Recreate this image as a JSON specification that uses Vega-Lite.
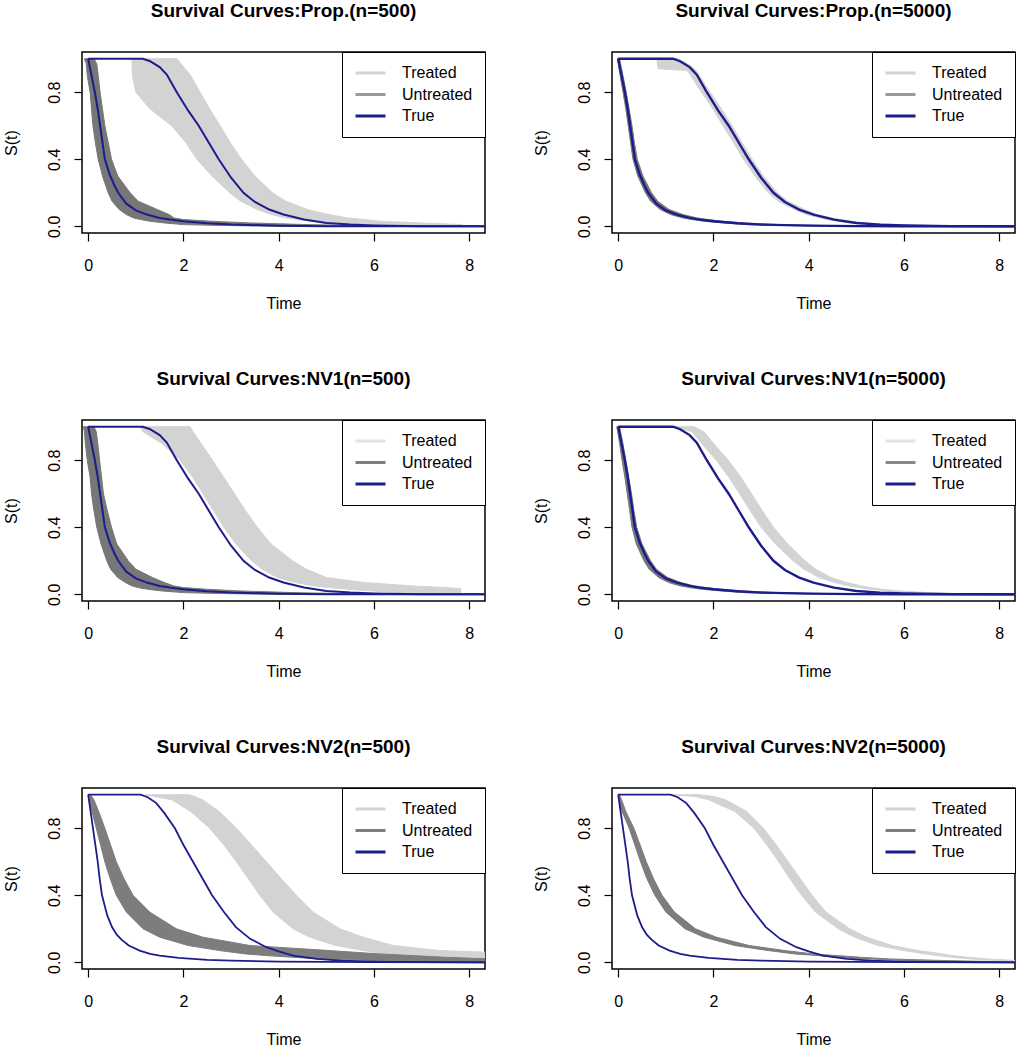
{
  "$schema": "https://vega.github.io/schema/vega-lite/v6.json",
  "padding": {"left": 2, "top": 0, "right": 0, "bottom": 0},
  "background": "white",
  "columns": 2,
  "spacing": {"row": 187, "column": 127},
  "bounds": "flush",
  "resolve": {"scale": {"stroke": "independent"}, "legend": {"stroke": "independent"}},
  "datasets": {
    "bands": [
      {"panel": 1, "series": "Treated", "s": 1, "lo": 0.92, "hi": 1.86},
      {"panel": 1, "series": "Treated", "s": 0.97, "lo": 0.92, "hi": 1.95},
      {"panel": 1, "series": "Treated", "s": 0.9, "lo": 0.93, "hi": 2.15},
      {"panel": 1, "series": "Treated", "s": 0.8, "lo": 1.0, "hi": 2.35},
      {"panel": 1, "series": "Treated", "s": 0.7, "lo": 1.3, "hi": 2.55},
      {"panel": 1, "series": "Treated", "s": 0.6, "lo": 1.75, "hi": 2.77},
      {"panel": 1, "series": "Treated", "s": 0.5, "lo": 2.05, "hi": 2.98},
      {"panel": 1, "series": "Treated", "s": 0.4, "lo": 2.28, "hi": 3.22},
      {"panel": 1, "series": "Treated", "s": 0.3, "lo": 2.6, "hi": 3.5},
      {"panel": 1, "series": "Treated", "s": 0.2, "lo": 2.97, "hi": 3.87},
      {"panel": 1, "series": "Treated", "s": 0.15, "lo": 3.2, "hi": 4.15},
      {"panel": 1, "series": "Treated", "s": 0.1, "lo": 3.55, "hi": 4.6},
      {"panel": 1, "series": "Treated", "s": 0.07, "lo": 3.85, "hi": 5.05},
      {"panel": 1, "series": "Treated", "s": 0.05, "lo": 4.15, "hi": 5.44},
      {"panel": 1, "series": "Treated", "s": 0.04, "lo": 4.39, "hi": 5.8},
      {"panel": 1, "series": "Treated", "s": 0.03, "lo": 4.7, "hi": 6.14},
      {"panel": 1, "series": "Treated", "s": 0.02, "lo": 5.09, "hi": 7.0},
      {"panel": 1, "series": "Treated", "s": 0.01, "lo": 5.79, "hi": 7.86},
      {"panel": 1, "series": "Treated", "s": 0.005, "lo": 6.5, "hi": 7.86},
      {"panel": 1, "series": "Treated", "s": 0, "lo": 7.3, "hi": 7.86},
      {"panel": 1, "series": "Untreated", "s": 1, "lo": -0.08, "hi": 0.12},
      {"panel": 1, "series": "Untreated", "s": 0.97, "lo": -0.04, "hi": 0.18},
      {"panel": 1, "series": "Untreated", "s": 0.9, "lo": -0.02, "hi": 0.21},
      {"panel": 1, "series": "Untreated", "s": 0.8, "lo": 0.04, "hi": 0.25},
      {"panel": 1, "series": "Untreated", "s": 0.7, "lo": 0.07, "hi": 0.3},
      {"panel": 1, "series": "Untreated", "s": 0.6, "lo": 0.1, "hi": 0.35},
      {"panel": 1, "series": "Untreated", "s": 0.5, "lo": 0.15, "hi": 0.42},
      {"panel": 1, "series": "Untreated", "s": 0.4, "lo": 0.21, "hi": 0.49},
      {"panel": 1, "series": "Untreated", "s": 0.3, "lo": 0.3, "hi": 0.62},
      {"panel": 1, "series": "Untreated", "s": 0.2, "lo": 0.42, "hi": 0.88},
      {"panel": 1, "series": "Untreated", "s": 0.15, "lo": 0.5, "hi": 1.05},
      {"panel": 1, "series": "Untreated", "s": 0.1, "lo": 0.65, "hi": 1.45},
      {"panel": 1, "series": "Untreated", "s": 0.07, "lo": 0.8, "hi": 1.7},
      {"panel": 1, "series": "Untreated", "s": 0.05, "lo": 0.95, "hi": 1.8},
      {"panel": 1, "series": "Untreated", "s": 0.04, "lo": 1.1, "hi": 2.0},
      {"panel": 1, "series": "Untreated", "s": 0.03, "lo": 1.3, "hi": 2.6},
      {"panel": 1, "series": "Untreated", "s": 0.02, "lo": 1.6, "hi": 3.4},
      {"panel": 1, "series": "Untreated", "s": 0.01, "lo": 2.0, "hi": 4.6},
      {"panel": 1, "series": "Untreated", "s": 0.005, "lo": 2.8, "hi": 5.5},
      {"panel": 1, "series": "Untreated", "s": 0, "lo": 4.0, "hi": 6.5},

      {"panel": 2, "series": "Treated", "s": 1, "lo": 0.82, "hi": 1.25},
      {"panel": 2, "series": "Treated", "s": 0.97, "lo": 0.82, "hi": 1.45},
      {"panel": 2, "series": "Treated", "s": 0.94, "lo": 0.84, "hi": 1.6},
      {"panel": 2, "series": "Treated", "s": 0.93, "lo": 1.45, "hi": 1.63},
      {"panel": 2, "series": "Treated", "s": 0.9, "lo": 1.52, "hi": 1.7},
      {"panel": 2, "series": "Treated", "s": 0.8, "lo": 1.75, "hi": 1.93},
      {"panel": 2, "series": "Treated", "s": 0.7, "lo": 1.99, "hi": 2.17},
      {"panel": 2, "series": "Treated", "s": 0.6, "lo": 2.2, "hi": 2.39},
      {"panel": 2, "series": "Treated", "s": 0.5, "lo": 2.42, "hi": 2.6},
      {"panel": 2, "series": "Treated", "s": 0.4, "lo": 2.63, "hi": 2.81},
      {"panel": 2, "series": "Treated", "s": 0.3, "lo": 2.87, "hi": 3.05},
      {"panel": 2, "series": "Treated", "s": 0.2, "lo": 3.15, "hi": 3.34},
      {"panel": 2, "series": "Treated", "s": 0.15, "lo": 3.36, "hi": 3.56},
      {"panel": 2, "series": "Treated", "s": 0.1, "lo": 3.7, "hi": 3.92},
      {"panel": 2, "series": "Treated", "s": 0.07, "lo": 3.95, "hi": 4.17},
      {"panel": 2, "series": "Treated", "s": 0.05, "lo": 4.25, "hi": 4.5},
      {"panel": 2, "series": "Treated", "s": 0.04, "lo": 4.4, "hi": 4.65},
      {"panel": 2, "series": "Treated", "s": 0.03, "lo": 4.6, "hi": 4.9},
      {"panel": 2, "series": "Treated", "s": 0.02, "lo": 4.85, "hi": 5.2},
      {"panel": 2, "series": "Treated", "s": 0.01, "lo": 5.4, "hi": 5.85},
      {"panel": 2, "series": "Treated", "s": 0.005, "lo": 5.8, "hi": 6.4},
      {"panel": 2, "series": "Treated", "s": 0, "lo": 7.0, "hi": 8.0},
      {"panel": 2, "series": "Untreated", "s": 1, "lo": -0.02, "hi": 0.03},
      {"panel": 2, "series": "Untreated", "s": 0.97, "lo": 0.0, "hi": 0.05},
      {"panel": 2, "series": "Untreated", "s": 0.9, "lo": 0.04, "hi": 0.1},
      {"panel": 2, "series": "Untreated", "s": 0.8, "lo": 0.1, "hi": 0.17},
      {"panel": 2, "series": "Untreated", "s": 0.7, "lo": 0.16, "hi": 0.23},
      {"panel": 2, "series": "Untreated", "s": 0.6, "lo": 0.21, "hi": 0.29},
      {"panel": 2, "series": "Untreated", "s": 0.5, "lo": 0.26, "hi": 0.34},
      {"panel": 2, "series": "Untreated", "s": 0.4, "lo": 0.31, "hi": 0.4},
      {"panel": 2, "series": "Untreated", "s": 0.3, "lo": 0.41, "hi": 0.52},
      {"panel": 2, "series": "Untreated", "s": 0.2, "lo": 0.57, "hi": 0.7},
      {"panel": 2, "series": "Untreated", "s": 0.15, "lo": 0.68, "hi": 0.83},
      {"panel": 2, "series": "Untreated", "s": 0.1, "lo": 0.88, "hi": 1.07},
      {"panel": 2, "series": "Untreated", "s": 0.07, "lo": 1.1, "hi": 1.36},
      {"panel": 2, "series": "Untreated", "s": 0.05, "lo": 1.35, "hi": 1.65},
      {"panel": 2, "series": "Untreated", "s": 0.04, "lo": 1.55, "hi": 1.9},
      {"panel": 2, "series": "Untreated", "s": 0.03, "lo": 1.8, "hi": 2.2},
      {"panel": 2, "series": "Untreated", "s": 0.02, "lo": 2.2, "hi": 2.65},
      {"panel": 2, "series": "Untreated", "s": 0.01, "lo": 2.7, "hi": 3.4},
      {"panel": 2, "series": "Untreated", "s": 0.005, "lo": 3.4, "hi": 4.3},
      {"panel": 2, "series": "Untreated", "s": 0, "lo": 5.0, "hi": 7.0},

      {"panel": 3, "series": "Treated", "s": 1, "lo": 1.09, "hi": 2.14},
      {"panel": 3, "series": "Treated", "s": 0.97, "lo": 1.15, "hi": 2.2},
      {"panel": 3, "series": "Treated", "s": 0.9, "lo": 1.55, "hi": 2.37},
      {"panel": 3, "series": "Treated", "s": 0.8, "lo": 1.93, "hi": 2.61},
      {"panel": 3, "series": "Treated", "s": 0.7, "lo": 2.19, "hi": 2.84},
      {"panel": 3, "series": "Treated", "s": 0.6, "lo": 2.41, "hi": 3.07},
      {"panel": 3, "series": "Treated", "s": 0.5, "lo": 2.63, "hi": 3.3},
      {"panel": 3, "series": "Treated", "s": 0.4, "lo": 2.85, "hi": 3.55},
      {"panel": 3, "series": "Treated", "s": 0.3, "lo": 3.1, "hi": 3.84},
      {"panel": 3, "series": "Treated", "s": 0.2, "lo": 3.43, "hi": 4.29},
      {"panel": 3, "series": "Treated", "s": 0.15, "lo": 3.65, "hi": 4.58},
      {"panel": 3, "series": "Treated", "s": 0.1, "lo": 3.97, "hi": 5.0},
      {"panel": 3, "series": "Treated", "s": 0.07, "lo": 4.35, "hi": 5.8},
      {"panel": 3, "series": "Treated", "s": 0.05, "lo": 4.74, "hi": 6.8},
      {"panel": 3, "series": "Treated", "s": 0.04, "lo": 5.05, "hi": 7.5},
      {"panel": 3, "series": "Treated", "s": 0.034, "lo": 5.3, "hi": 7.82},
      {"panel": 3, "series": "Treated", "s": 0.03, "lo": 5.44, "hi": 7.82},
      {"panel": 3, "series": "Treated", "s": 0.02, "lo": 5.95, "hi": 7.82},
      {"panel": 3, "series": "Treated", "s": 0.01, "lo": 6.6, "hi": 7.82},
      {"panel": 3, "series": "Treated", "s": 0.005, "lo": 7.2, "hi": 7.82},
      {"panel": 3, "series": "Treated", "s": 0, "lo": 7.8, "hi": 7.82},
      {"panel": 3, "series": "Untreated", "s": 1, "lo": -0.1, "hi": 0.12},
      {"panel": 3, "series": "Untreated", "s": 0.97, "lo": -0.08, "hi": 0.17},
      {"panel": 3, "series": "Untreated", "s": 0.9, "lo": -0.06, "hi": 0.2},
      {"panel": 3, "series": "Untreated", "s": 0.8, "lo": -0.02, "hi": 0.24},
      {"panel": 3, "series": "Untreated", "s": 0.7, "lo": 0.04, "hi": 0.28},
      {"panel": 3, "series": "Untreated", "s": 0.6, "lo": 0.07, "hi": 0.32},
      {"panel": 3, "series": "Untreated", "s": 0.5, "lo": 0.12, "hi": 0.4},
      {"panel": 3, "series": "Untreated", "s": 0.4, "lo": 0.18, "hi": 0.49},
      {"panel": 3, "series": "Untreated", "s": 0.3, "lo": 0.27, "hi": 0.6},
      {"panel": 3, "series": "Untreated", "s": 0.2, "lo": 0.39, "hi": 0.84},
      {"panel": 3, "series": "Untreated", "s": 0.15, "lo": 0.47, "hi": 1.0},
      {"panel": 3, "series": "Untreated", "s": 0.1, "lo": 0.62, "hi": 1.35},
      {"panel": 3, "series": "Untreated", "s": 0.07, "lo": 0.78, "hi": 1.6},
      {"panel": 3, "series": "Untreated", "s": 0.05, "lo": 0.92, "hi": 1.8},
      {"panel": 3, "series": "Untreated", "s": 0.04, "lo": 1.05, "hi": 2.0},
      {"panel": 3, "series": "Untreated", "s": 0.03, "lo": 1.25, "hi": 2.5},
      {"panel": 3, "series": "Untreated", "s": 0.02, "lo": 1.55, "hi": 3.2},
      {"panel": 3, "series": "Untreated", "s": 0.01, "lo": 2.0, "hi": 4.3},
      {"panel": 3, "series": "Untreated", "s": 0.005, "lo": 2.7, "hi": 5.2},
      {"panel": 3, "series": "Untreated", "s": 0, "lo": 3.8, "hi": 6.3},

      {"panel": 4, "series": "Treated", "s": 1, "lo": 1.2, "hi": 1.59},
      {"panel": 4, "series": "Treated", "s": 0.97, "lo": 1.55, "hi": 1.8},
      {"panel": 4, "series": "Treated", "s": 0.9, "lo": 1.75, "hi": 2.0},
      {"panel": 4, "series": "Treated", "s": 0.8, "lo": 2.06, "hi": 2.31},
      {"panel": 4, "series": "Treated", "s": 0.7, "lo": 2.32, "hi": 2.57},
      {"panel": 4, "series": "Treated", "s": 0.6, "lo": 2.55, "hi": 2.8},
      {"panel": 4, "series": "Treated", "s": 0.5, "lo": 2.77, "hi": 3.02},
      {"panel": 4, "series": "Treated", "s": 0.4, "lo": 3.0, "hi": 3.26},
      {"panel": 4, "series": "Treated", "s": 0.3, "lo": 3.3, "hi": 3.56},
      {"panel": 4, "series": "Treated", "s": 0.2, "lo": 3.67, "hi": 3.92},
      {"panel": 4, "series": "Treated", "s": 0.15, "lo": 3.9, "hi": 4.15},
      {"panel": 4, "series": "Treated", "s": 0.1, "lo": 4.22, "hi": 4.47},
      {"panel": 4, "series": "Treated", "s": 0.07, "lo": 4.55, "hi": 4.8},
      {"panel": 4, "series": "Treated", "s": 0.05, "lo": 4.85, "hi": 5.1},
      {"panel": 4, "series": "Treated", "s": 0.04, "lo": 5.05, "hi": 5.3},
      {"panel": 4, "series": "Treated", "s": 0.03, "lo": 5.3, "hi": 5.55},
      {"panel": 4, "series": "Treated", "s": 0.02, "lo": 5.66, "hi": 5.91},
      {"panel": 4, "series": "Treated", "s": 0.01, "lo": 6.2, "hi": 6.5},
      {"panel": 4, "series": "Treated", "s": 0.005, "lo": 6.8, "hi": 7.0},
      {"panel": 4, "series": "Treated", "s": 0, "lo": 8.0, "hi": 8.4},
      {"panel": 4, "series": "Untreated", "s": 1, "lo": -0.03, "hi": 0.03},
      {"panel": 4, "series": "Untreated", "s": 0.97, "lo": -0.01, "hi": 0.05},
      {"panel": 4, "series": "Untreated", "s": 0.9, "lo": 0.03, "hi": 0.1},
      {"panel": 4, "series": "Untreated", "s": 0.8, "lo": 0.08, "hi": 0.16},
      {"panel": 4, "series": "Untreated", "s": 0.7, "lo": 0.14, "hi": 0.22},
      {"panel": 4, "series": "Untreated", "s": 0.6, "lo": 0.19, "hi": 0.28},
      {"panel": 4, "series": "Untreated", "s": 0.5, "lo": 0.24, "hi": 0.33},
      {"panel": 4, "series": "Untreated", "s": 0.4, "lo": 0.29, "hi": 0.39},
      {"panel": 4, "series": "Untreated", "s": 0.3, "lo": 0.38, "hi": 0.5},
      {"panel": 4, "series": "Untreated", "s": 0.2, "lo": 0.54, "hi": 0.68},
      {"panel": 4, "series": "Untreated", "s": 0.15, "lo": 0.65, "hi": 0.8},
      {"panel": 4, "series": "Untreated", "s": 0.1, "lo": 0.85, "hi": 1.04},
      {"panel": 4, "series": "Untreated", "s": 0.07, "lo": 1.06, "hi": 1.32},
      {"panel": 4, "series": "Untreated", "s": 0.05, "lo": 1.3, "hi": 1.6},
      {"panel": 4, "series": "Untreated", "s": 0.04, "lo": 1.5, "hi": 1.85},
      {"panel": 4, "series": "Untreated", "s": 0.03, "lo": 1.75, "hi": 2.15},
      {"panel": 4, "series": "Untreated", "s": 0.02, "lo": 2.15, "hi": 2.6},
      {"panel": 4, "series": "Untreated", "s": 0.01, "lo": 2.65, "hi": 3.35},
      {"panel": 4, "series": "Untreated", "s": 0.005, "lo": 3.35, "hi": 4.2},
      {"panel": 4, "series": "Untreated", "s": 0, "lo": 4.9, "hi": 7.0},

      {"panel": 5, "series": "Treated", "s": 1, "lo": 1.2, "hi": 2.13},
      {"panel": 5, "series": "Treated", "s": 0.97, "lo": 1.75, "hi": 2.4},
      {"panel": 5, "series": "Treated", "s": 0.9, "lo": 2.15, "hi": 2.75},
      {"panel": 5, "series": "Treated", "s": 0.8, "lo": 2.55, "hi": 3.11},
      {"panel": 5, "series": "Treated", "s": 0.7, "lo": 2.85, "hi": 3.43},
      {"panel": 5, "series": "Treated", "s": 0.6, "lo": 3.11, "hi": 3.74},
      {"panel": 5, "series": "Treated", "s": 0.5, "lo": 3.36, "hi": 4.05},
      {"panel": 5, "series": "Treated", "s": 0.4, "lo": 3.6, "hi": 4.37},
      {"panel": 5, "series": "Treated", "s": 0.3, "lo": 3.88, "hi": 4.72},
      {"panel": 5, "series": "Treated", "s": 0.2, "lo": 4.3, "hi": 5.28},
      {"panel": 5, "series": "Treated", "s": 0.15, "lo": 4.65, "hi": 5.77},
      {"panel": 5, "series": "Treated", "s": 0.1, "lo": 5.2, "hi": 6.4},
      {"panel": 5, "series": "Treated", "s": 0.07, "lo": 5.77, "hi": 7.38},
      {"panel": 5, "series": "Treated", "s": 0.06, "lo": 6.0, "hi": 8.4},
      {"panel": 5, "series": "Treated", "s": 0.05, "lo": 6.2, "hi": 8.4},
      {"panel": 5, "series": "Treated", "s": 0.04, "lo": 6.47, "hi": 8.4},
      {"panel": 5, "series": "Treated", "s": 0.03, "lo": 7.0, "hi": 8.4},
      {"panel": 5, "series": "Treated", "s": 0.02, "lo": 7.52, "hi": 8.4},
      {"panel": 5, "series": "Treated", "s": 0.015, "lo": 8.1, "hi": 8.4},
      {"panel": 5, "series": "Untreated", "s": 1, "lo": 0.0, "hi": 0.05},
      {"panel": 5, "series": "Untreated", "s": 0.97, "lo": 0.02, "hi": 0.12},
      {"panel": 5, "series": "Untreated", "s": 0.9, "lo": 0.08, "hi": 0.22},
      {"panel": 5, "series": "Untreated", "s": 0.8, "lo": 0.17, "hi": 0.35},
      {"panel": 5, "series": "Untreated", "s": 0.7, "lo": 0.26, "hi": 0.47},
      {"panel": 5, "series": "Untreated", "s": 0.6, "lo": 0.35, "hi": 0.59},
      {"panel": 5, "series": "Untreated", "s": 0.5, "lo": 0.46, "hi": 0.75},
      {"panel": 5, "series": "Untreated", "s": 0.4, "lo": 0.59, "hi": 0.94},
      {"panel": 5, "series": "Untreated", "s": 0.3, "lo": 0.8, "hi": 1.29},
      {"panel": 5, "series": "Untreated", "s": 0.2, "lo": 1.15, "hi": 1.85},
      {"panel": 5, "series": "Untreated", "s": 0.15, "lo": 1.5, "hi": 2.41},
      {"panel": 5, "series": "Untreated", "s": 0.1, "lo": 2.1, "hi": 3.4},
      {"panel": 5, "series": "Untreated", "s": 0.07, "lo": 2.76, "hi": 5.07},
      {"panel": 5, "series": "Untreated", "s": 0.05, "lo": 3.3, "hi": 6.12},
      {"panel": 5, "series": "Untreated", "s": 0.04, "lo": 3.74, "hi": 6.8},
      {"panel": 5, "series": "Untreated", "s": 0.03, "lo": 4.3, "hi": 7.5},
      {"panel": 5, "series": "Untreated", "s": 0.02, "lo": 4.86, "hi": 8.4},
      {"panel": 5, "series": "Untreated", "s": 0.01, "lo": 6.12, "hi": 8.4},
      {"panel": 5, "series": "Untreated", "s": 0.005, "lo": 7.0, "hi": 8.4},
      {"panel": 5, "series": "Untreated", "s": 0, "lo": 8.0, "hi": 8.4},

      {"panel": 6, "series": "Treated", "s": 1, "lo": 1.15, "hi": 1.7},
      {"panel": 6, "series": "Treated", "s": 0.99, "lo": 1.6, "hi": 2.0},
      {"panel": 6, "series": "Treated", "s": 0.97, "lo": 1.9, "hi": 2.25},
      {"panel": 6, "series": "Treated", "s": 0.9, "lo": 2.45, "hi": 2.7},
      {"panel": 6, "series": "Treated", "s": 0.8, "lo": 2.85, "hi": 3.05},
      {"panel": 6, "series": "Treated", "s": 0.7, "lo": 3.12, "hi": 3.32},
      {"panel": 6, "series": "Treated", "s": 0.6, "lo": 3.37, "hi": 3.57},
      {"panel": 6, "series": "Treated", "s": 0.5, "lo": 3.6, "hi": 3.82},
      {"panel": 6, "series": "Treated", "s": 0.4, "lo": 3.85, "hi": 4.07},
      {"panel": 6, "series": "Treated", "s": 0.3, "lo": 4.14, "hi": 4.36},
      {"panel": 6, "series": "Treated", "s": 0.2, "lo": 4.62, "hi": 4.86},
      {"panel": 6, "series": "Treated", "s": 0.15, "lo": 4.96, "hi": 5.22},
      {"panel": 6, "series": "Treated", "s": 0.1, "lo": 5.45, "hi": 5.75},
      {"panel": 6, "series": "Treated", "s": 0.07, "lo": 6.0, "hi": 6.3},
      {"panel": 6, "series": "Treated", "s": 0.05, "lo": 6.45, "hi": 6.8},
      {"panel": 6, "series": "Treated", "s": 0.04, "lo": 6.7, "hi": 7.0},
      {"panel": 6, "series": "Treated", "s": 0.03, "lo": 7.0, "hi": 7.35},
      {"panel": 6, "series": "Treated", "s": 0.02, "lo": 7.4, "hi": 7.75},
      {"panel": 6, "series": "Treated", "s": 0.01, "lo": 8.0, "hi": 8.4},
      {"panel": 6, "series": "Treated", "s": 0.005, "lo": 8.3, "hi": 8.4},
      {"panel": 6, "series": "Untreated", "s": 1, "lo": 0.0, "hi": 0.03},
      {"panel": 6, "series": "Untreated", "s": 0.97, "lo": 0.02, "hi": 0.07},
      {"panel": 6, "series": "Untreated", "s": 0.9, "lo": 0.08, "hi": 0.16},
      {"panel": 6, "series": "Untreated", "s": 0.8, "lo": 0.23, "hi": 0.33},
      {"panel": 6, "series": "Untreated", "s": 0.7, "lo": 0.35, "hi": 0.46},
      {"panel": 6, "series": "Untreated", "s": 0.6, "lo": 0.47, "hi": 0.59},
      {"panel": 6, "series": "Untreated", "s": 0.5, "lo": 0.6, "hi": 0.74},
      {"panel": 6, "series": "Untreated", "s": 0.4, "lo": 0.77, "hi": 0.92},
      {"panel": 6, "series": "Untreated", "s": 0.3, "lo": 1.0, "hi": 1.18},
      {"panel": 6, "series": "Untreated", "s": 0.2, "lo": 1.4, "hi": 1.62},
      {"panel": 6, "series": "Untreated", "s": 0.15, "lo": 1.8, "hi": 2.06},
      {"panel": 6, "series": "Untreated", "s": 0.1, "lo": 2.45, "hi": 2.75},
      {"panel": 6, "series": "Untreated", "s": 0.07, "lo": 3.15, "hi": 3.5},
      {"panel": 6, "series": "Untreated", "s": 0.05, "lo": 3.7, "hi": 4.1},
      {"panel": 6, "series": "Untreated", "s": 0.04, "lo": 4.2, "hi": 4.6},
      {"panel": 6, "series": "Untreated", "s": 0.03, "lo": 4.6, "hi": 5.1},
      {"panel": 6, "series": "Untreated", "s": 0.02, "lo": 5.2, "hi": 5.7},
      {"panel": 6, "series": "Untreated", "s": 0.01, "lo": 6.2, "hi": 6.9},
      {"panel": 6, "series": "Untreated", "s": 0.005, "lo": 7.0, "hi": 7.8},
      {"panel": 6, "series": "Untreated", "s": 0, "lo": 7.8, "hi": 8.4}
    ],
    "truth": [
      {"set": "A", "curve": "treated", "series": "True", "t": 0, "s": 1},
      {"set": "A", "curve": "treated", "series": "True", "t": 1.15, "s": 1},
      {"set": "A", "curve": "treated", "series": "True", "t": 1.3, "s": 0.985},
      {"set": "A", "curve": "treated", "series": "True", "t": 1.5, "s": 0.95},
      {"set": "A", "curve": "treated", "series": "True", "t": 1.65, "s": 0.905},
      {"set": "A", "curve": "treated", "series": "True", "t": 1.86, "s": 0.8},
      {"set": "A", "curve": "treated", "series": "True", "t": 2.1, "s": 0.69},
      {"set": "A", "curve": "treated", "series": "True", "t": 2.32, "s": 0.6},
      {"set": "A", "curve": "treated", "series": "True", "t": 2.53, "s": 0.5},
      {"set": "A", "curve": "treated", "series": "True", "t": 2.74, "s": 0.4},
      {"set": "A", "curve": "treated", "series": "True", "t": 3.0, "s": 0.29},
      {"set": "A", "curve": "treated", "series": "True", "t": 3.26, "s": 0.2},
      {"set": "A", "curve": "treated", "series": "True", "t": 3.5, "s": 0.145},
      {"set": "A", "curve": "treated", "series": "True", "t": 3.8, "s": 0.1},
      {"set": "A", "curve": "treated", "series": "True", "t": 4.1, "s": 0.07},
      {"set": "A", "curve": "treated", "series": "True", "t": 4.53, "s": 0.04},
      {"set": "A", "curve": "treated", "series": "True", "t": 5.0, "s": 0.02},
      {"set": "A", "curve": "treated", "series": "True", "t": 5.5, "s": 0.01},
      {"set": "A", "curve": "treated", "series": "True", "t": 6.0, "s": 0.005},
      {"set": "A", "curve": "treated", "series": "True", "t": 7.0, "s": 0.001},
      {"set": "A", "curve": "treated", "series": "True", "t": 8.4, "s": 0},
      {"set": "A", "curve": "untreated", "series": "True", "t": 0, "s": 1},
      {"set": "A", "curve": "untreated", "series": "True", "t": 0.07, "s": 0.9},
      {"set": "A", "curve": "untreated", "series": "True", "t": 0.14, "s": 0.8},
      {"set": "A", "curve": "untreated", "series": "True", "t": 0.2, "s": 0.7},
      {"set": "A", "curve": "untreated", "series": "True", "t": 0.25, "s": 0.6},
      {"set": "A", "curve": "untreated", "series": "True", "t": 0.3, "s": 0.5},
      {"set": "A", "curve": "untreated", "series": "True", "t": 0.35, "s": 0.4},
      {"set": "A", "curve": "untreated", "series": "True", "t": 0.45, "s": 0.31},
      {"set": "A", "curve": "untreated", "series": "True", "t": 0.55, "s": 0.245},
      {"set": "A", "curve": "untreated", "series": "True", "t": 0.63, "s": 0.2},
      {"set": "A", "curve": "untreated", "series": "True", "t": 0.8, "s": 0.135},
      {"set": "A", "curve": "untreated", "series": "True", "t": 1.0, "s": 0.095},
      {"set": "A", "curve": "untreated", "series": "True", "t": 1.23, "s": 0.07},
      {"set": "A", "curve": "untreated", "series": "True", "t": 1.5, "s": 0.05},
      {"set": "A", "curve": "untreated", "series": "True", "t": 1.72, "s": 0.04},
      {"set": "A", "curve": "untreated", "series": "True", "t": 2.0, "s": 0.03},
      {"set": "A", "curve": "untreated", "series": "True", "t": 2.5, "s": 0.018},
      {"set": "A", "curve": "untreated", "series": "True", "t": 3.0, "s": 0.01},
      {"set": "A", "curve": "untreated", "series": "True", "t": 4.0, "s": 0.004},
      {"set": "A", "curve": "untreated", "series": "True", "t": 5.0, "s": 0.001},
      {"set": "A", "curve": "untreated", "series": "True", "t": 6.0, "s": 0},
      {"set": "A", "curve": "untreated", "series": "True", "t": 8.4, "s": 0},
      {"set": "B", "curve": "treated", "series": "True", "t": 0, "s": 1},
      {"set": "B", "curve": "treated", "series": "True", "t": 1.1, "s": 1},
      {"set": "B", "curve": "treated", "series": "True", "t": 1.25, "s": 0.985},
      {"set": "B", "curve": "treated", "series": "True", "t": 1.43, "s": 0.95},
      {"set": "B", "curve": "treated", "series": "True", "t": 1.6, "s": 0.89},
      {"set": "B", "curve": "treated", "series": "True", "t": 1.82, "s": 0.8},
      {"set": "B", "curve": "treated", "series": "True", "t": 2.0, "s": 0.7},
      {"set": "B", "curve": "treated", "series": "True", "t": 2.2, "s": 0.6},
      {"set": "B", "curve": "treated", "series": "True", "t": 2.4, "s": 0.5},
      {"set": "B", "curve": "treated", "series": "True", "t": 2.6, "s": 0.4},
      {"set": "B", "curve": "treated", "series": "True", "t": 2.85, "s": 0.3},
      {"set": "B", "curve": "treated", "series": "True", "t": 3.1, "s": 0.21},
      {"set": "B", "curve": "treated", "series": "True", "t": 3.4, "s": 0.14},
      {"set": "B", "curve": "treated", "series": "True", "t": 3.74, "s": 0.09},
      {"set": "B", "curve": "treated", "series": "True", "t": 4.0, "s": 0.065},
      {"set": "B", "curve": "treated", "series": "True", "t": 4.3, "s": 0.04},
      {"set": "B", "curve": "treated", "series": "True", "t": 4.8, "s": 0.02},
      {"set": "B", "curve": "treated", "series": "True", "t": 5.3, "s": 0.01},
      {"set": "B", "curve": "treated", "series": "True", "t": 6.0, "s": 0.004},
      {"set": "B", "curve": "treated", "series": "True", "t": 7.0, "s": 0.001},
      {"set": "B", "curve": "treated", "series": "True", "t": 8.4, "s": 0},
      {"set": "B", "curve": "untreated", "series": "True", "t": 0, "s": 1},
      {"set": "B", "curve": "untreated", "series": "True", "t": 0.05, "s": 0.9},
      {"set": "B", "curve": "untreated", "series": "True", "t": 0.1, "s": 0.8},
      {"set": "B", "curve": "untreated", "series": "True", "t": 0.15, "s": 0.7},
      {"set": "B", "curve": "untreated", "series": "True", "t": 0.2, "s": 0.6},
      {"set": "B", "curve": "untreated", "series": "True", "t": 0.24, "s": 0.5},
      {"set": "B", "curve": "untreated", "series": "True", "t": 0.29, "s": 0.4},
      {"set": "B", "curve": "untreated", "series": "True", "t": 0.4, "s": 0.28},
      {"set": "B", "curve": "untreated", "series": "True", "t": 0.5, "s": 0.21},
      {"set": "B", "curve": "untreated", "series": "True", "t": 0.6, "s": 0.165},
      {"set": "B", "curve": "untreated", "series": "True", "t": 0.7, "s": 0.135},
      {"set": "B", "curve": "untreated", "series": "True", "t": 0.85, "s": 0.1},
      {"set": "B", "curve": "untreated", "series": "True", "t": 1.08, "s": 0.07},
      {"set": "B", "curve": "untreated", "series": "True", "t": 1.3, "s": 0.05},
      {"set": "B", "curve": "untreated", "series": "True", "t": 1.5, "s": 0.04},
      {"set": "B", "curve": "untreated", "series": "True", "t": 1.9, "s": 0.026},
      {"set": "B", "curve": "untreated", "series": "True", "t": 2.5, "s": 0.015},
      {"set": "B", "curve": "untreated", "series": "True", "t": 3.0, "s": 0.01},
      {"set": "B", "curve": "untreated", "series": "True", "t": 4.0, "s": 0.004},
      {"set": "B", "curve": "untreated", "series": "True", "t": 5.0, "s": 0.002},
      {"set": "B", "curve": "untreated", "series": "True", "t": 6.0, "s": 0.001},
      {"set": "B", "curve": "untreated", "series": "True", "t": 8.4, "s": 0}
    ]
  },
  "concat": [
    {
      "title": "Survival Curves:Prop.(n=500)",
      "width": 403, "height": 181,
      "layer": [
        {"data": {"name": "bands"}, "transform": [{"filter": "datum.panel == 1 && datum.series == 'Treated'"}],
         "mark": {"type": "area", "orient": "horizontal", "clip": true, "fill": "#d3d3d3", "stroke": "#d3d3d3", "strokeWidth": 1},
         "encoding": {
           "y": {"field": "s", "type": "quantitative", "title": "S(t)", "scale": {"domain": [-0.04, 1.04], "nice": false, "zero": false},
                 "axis": {"values": [0, 0.2, 0.4, 0.6, 0.8, 1], "labelExpr": "datum.value == 0 ? '0.0' : (abs(datum.value - 0.4) < 0.001 ? '0.4' : (abs(datum.value - 0.8) < 0.001 ? '0.8' : ''))", "labelAngle": -90, "labelAlign": "center", "labelBaseline": "bottom", "labelPadding": 12, "labelOverlap": false, "titlePadding": 27}},
           "x": {"field": "lo", "type": "quantitative", "title": "Time", "scale": {"domain": [-0.13, 8.33], "nice": false, "zero": false},
                 "axis": {"values": [0, 2, 4, 6, 8], "labelPadding": 16, "labelFlush": false, "labelOverlap": false, "titlePadding": 22}},
           "x2": {"field": "hi"}
         }},
        {"data": {"name": "bands"}, "transform": [{"filter": "datum.panel == 1 && datum.series == 'Untreated'"}],
         "mark": {"type": "area", "orient": "horizontal", "clip": true, "fill": "#777777", "stroke": "#777777", "strokeWidth": 1},
         "encoding": {
           "y": {"field": "s", "type": "quantitative", "title": "S(t)"},
           "x": {"field": "lo", "type": "quantitative", "title": "Time"},
           "x2": {"field": "hi"}
         }},
        {"data": {"name": "truth"}, "transform": [{"filter": "datum.set == 'A'"}],
         "mark": {"type": "line", "clip": true, "strokeWidth": 2},
         "encoding": {
           "y": {"field": "s", "type": "quantitative", "title": "S(t)"},
           "x": {"field": "t", "type": "quantitative", "title": "Time"},
           "detail": {"field": "curve"},
           "stroke": {"field": "series", "type": "nominal", "scale": {"domain": ["Treated", "Untreated", "True"], "range": ["#d3d3d3", "#999999", "#1c1c8c"]}, "legend": {"title": null}}
         }}
      ]
    },
    {
      "title": "Survival Curves:Prop.(n=5000)",
      "width": 403, "height": 181,
      "layer": [
        {"data": {"name": "bands"}, "transform": [{"filter": "datum.panel == 2 && datum.series == 'Treated'"}],
         "mark": {"type": "area", "orient": "horizontal", "clip": true, "fill": "#d3d3d3", "stroke": "#d3d3d3", "strokeWidth": 1},
         "encoding": {
           "y": {"field": "s", "type": "quantitative", "title": "S(t)", "scale": {"domain": [-0.04, 1.04], "nice": false, "zero": false},
                 "axis": {"values": [0, 0.2, 0.4, 0.6, 0.8, 1], "labelExpr": "datum.value == 0 ? '0.0' : (abs(datum.value - 0.4) < 0.001 ? '0.4' : (abs(datum.value - 0.8) < 0.001 ? '0.8' : ''))", "labelAngle": -90, "labelAlign": "center", "labelBaseline": "bottom", "labelPadding": 12, "labelOverlap": false, "titlePadding": 27}},
           "x": {"field": "lo", "type": "quantitative", "title": "Time", "scale": {"domain": [-0.13, 8.33], "nice": false, "zero": false},
                 "axis": {"values": [0, 2, 4, 6, 8], "labelPadding": 16, "labelFlush": false, "labelOverlap": false, "titlePadding": 22}},
           "x2": {"field": "hi"}
         }},
        {"data": {"name": "bands"}, "transform": [{"filter": "datum.panel == 2 && datum.series == 'Untreated'"}],
         "mark": {"type": "area", "orient": "horizontal", "clip": true, "fill": "#777777", "stroke": "#777777", "strokeWidth": 1},
         "encoding": {
           "y": {"field": "s", "type": "quantitative", "title": "S(t)"},
           "x": {"field": "lo", "type": "quantitative", "title": "Time"},
           "x2": {"field": "hi"}
         }},
        {"data": {"name": "truth"}, "transform": [{"filter": "datum.set == 'A'"}],
         "mark": {"type": "line", "clip": true, "strokeWidth": 2.4},
         "encoding": {
           "y": {"field": "s", "type": "quantitative", "title": "S(t)"},
           "x": {"field": "t", "type": "quantitative", "title": "Time"},
           "detail": {"field": "curve"},
           "stroke": {"field": "series", "type": "nominal", "scale": {"domain": ["Treated", "Untreated", "True"], "range": ["#d3d3d3", "#999999", "#1c1c8c"]}, "legend": {"title": null}}
         }}
      ]
    },
    {
      "title": "Survival Curves:NV1(n=500)",
      "width": 403, "height": 181,
      "layer": [
        {"data": {"name": "bands"}, "transform": [{"filter": "datum.panel == 3 && datum.series == 'Treated'"}],
         "mark": {"type": "area", "orient": "horizontal", "clip": true, "fill": "#d3d3d3", "stroke": "#d3d3d3", "strokeWidth": 1},
         "encoding": {
           "y": {"field": "s", "type": "quantitative", "title": "S(t)", "scale": {"domain": [-0.04, 1.04], "nice": false, "zero": false},
                 "axis": {"values": [0, 0.2, 0.4, 0.6, 0.8, 1], "labelExpr": "datum.value == 0 ? '0.0' : (abs(datum.value - 0.4) < 0.001 ? '0.4' : (abs(datum.value - 0.8) < 0.001 ? '0.8' : ''))", "labelAngle": -90, "labelAlign": "center", "labelBaseline": "bottom", "labelPadding": 12, "labelOverlap": false, "titlePadding": 27}},
           "x": {"field": "lo", "type": "quantitative", "title": "Time", "scale": {"domain": [-0.13, 8.33], "nice": false, "zero": false},
                 "axis": {"values": [0, 2, 4, 6, 8], "labelPadding": 16, "labelFlush": false, "labelOverlap": false, "titlePadding": 22}},
           "x2": {"field": "hi"}
         }},
        {"data": {"name": "bands"}, "transform": [{"filter": "datum.panel == 3 && datum.series == 'Untreated'"}],
         "mark": {"type": "area", "orient": "horizontal", "clip": true, "fill": "#777777", "stroke": "#777777", "strokeWidth": 1},
         "encoding": {
           "y": {"field": "s", "type": "quantitative", "title": "S(t)"},
           "x": {"field": "lo", "type": "quantitative", "title": "Time"},
           "x2": {"field": "hi"}
         }},
        {"data": {"name": "truth"}, "transform": [{"filter": "datum.set == 'A'"}],
         "mark": {"type": "line", "clip": true, "strokeWidth": 2},
         "encoding": {
           "y": {"field": "s", "type": "quantitative", "title": "S(t)"},
           "x": {"field": "t", "type": "quantitative", "title": "Time"},
           "detail": {"field": "curve"},
           "stroke": {"field": "series", "type": "nominal", "scale": {"domain": ["Treated", "Untreated", "True"], "range": ["#e3e3e3", "#7d7d7d", "#1c1c8c"]}, "legend": {"title": null}}
         }}
      ]
    },
    {
      "title": "Survival Curves:NV1(n=5000)",
      "width": 403, "height": 181,
      "layer": [
        {"data": {"name": "bands"}, "transform": [{"filter": "datum.panel == 4 && datum.series == 'Treated'"}],
         "mark": {"type": "area", "orient": "horizontal", "clip": true, "fill": "#d3d3d3", "stroke": "#d3d3d3", "strokeWidth": 1},
         "encoding": {
           "y": {"field": "s", "type": "quantitative", "title": "S(t)", "scale": {"domain": [-0.04, 1.04], "nice": false, "zero": false},
                 "axis": {"values": [0, 0.2, 0.4, 0.6, 0.8, 1], "labelExpr": "datum.value == 0 ? '0.0' : (abs(datum.value - 0.4) < 0.001 ? '0.4' : (abs(datum.value - 0.8) < 0.001 ? '0.8' : ''))", "labelAngle": -90, "labelAlign": "center", "labelBaseline": "bottom", "labelPadding": 12, "labelOverlap": false, "titlePadding": 27}},
           "x": {"field": "lo", "type": "quantitative", "title": "Time", "scale": {"domain": [-0.13, 8.33], "nice": false, "zero": false},
                 "axis": {"values": [0, 2, 4, 6, 8], "labelPadding": 16, "labelFlush": false, "labelOverlap": false, "titlePadding": 22}},
           "x2": {"field": "hi"}
         }},
        {"data": {"name": "bands"}, "transform": [{"filter": "datum.panel == 4 && datum.series == 'Untreated'"}],
         "mark": {"type": "area", "orient": "horizontal", "clip": true, "fill": "#777777", "stroke": "#777777", "strokeWidth": 1},
         "encoding": {
           "y": {"field": "s", "type": "quantitative", "title": "S(t)"},
           "x": {"field": "lo", "type": "quantitative", "title": "Time"},
           "x2": {"field": "hi"}
         }},
        {"data": {"name": "truth"}, "transform": [{"filter": "datum.set == 'A'"}],
         "mark": {"type": "line", "clip": true, "strokeWidth": 2.4},
         "encoding": {
           "y": {"field": "s", "type": "quantitative", "title": "S(t)"},
           "x": {"field": "t", "type": "quantitative", "title": "Time"},
           "detail": {"field": "curve"},
           "stroke": {"field": "series", "type": "nominal", "scale": {"domain": ["Treated", "Untreated", "True"], "range": ["#e3e3e3", "#888888", "#1c1c8c"]}, "legend": {"title": null}}
         }}
      ]
    },
    {
      "title": "Survival Curves:NV2(n=500)",
      "width": 403, "height": 181,
      "layer": [
        {"data": {"name": "bands"}, "transform": [{"filter": "datum.panel == 5 && datum.series == 'Treated'"}],
         "mark": {"type": "area", "orient": "horizontal", "clip": true, "fill": "#d3d3d3", "stroke": "#d3d3d3", "strokeWidth": 1},
         "encoding": {
           "y": {"field": "s", "type": "quantitative", "title": "S(t)", "scale": {"domain": [-0.04, 1.04], "nice": false, "zero": false},
                 "axis": {"values": [0, 0.2, 0.4, 0.6, 0.8, 1], "labelExpr": "datum.value == 0 ? '0.0' : (abs(datum.value - 0.4) < 0.001 ? '0.4' : (abs(datum.value - 0.8) < 0.001 ? '0.8' : ''))", "labelAngle": -90, "labelAlign": "center", "labelBaseline": "bottom", "labelPadding": 12, "labelOverlap": false, "titlePadding": 27}},
           "x": {"field": "lo", "type": "quantitative", "title": "Time", "scale": {"domain": [-0.13, 8.33], "nice": false, "zero": false},
                 "axis": {"values": [0, 2, 4, 6, 8], "labelPadding": 16, "labelFlush": false, "labelOverlap": false, "titlePadding": 22}},
           "x2": {"field": "hi"}
         }},
        {"data": {"name": "bands"}, "transform": [{"filter": "datum.panel == 5 && datum.series == 'Untreated'"}],
         "mark": {"type": "area", "orient": "horizontal", "clip": true, "fill": "#7d7d7d", "stroke": "#7d7d7d", "strokeWidth": 1},
         "encoding": {
           "y": {"field": "s", "type": "quantitative", "title": "S(t)"},
           "x": {"field": "lo", "type": "quantitative", "title": "Time"},
           "x2": {"field": "hi"}
         }},
        {"data": {"name": "truth"}, "transform": [{"filter": "datum.set == 'B'"}],
         "mark": {"type": "line", "clip": true, "strokeWidth": 1.8},
         "encoding": {
           "y": {"field": "s", "type": "quantitative", "title": "S(t)"},
           "x": {"field": "t", "type": "quantitative", "title": "Time"},
           "detail": {"field": "curve"},
           "stroke": {"field": "series", "type": "nominal", "scale": {"domain": ["Treated", "Untreated", "True"], "range": ["#d3d3d3", "#7d7d7d", "#1c1c8c"]}, "legend": {"title": null}}
         }}
      ]
    },
    {
      "title": "Survival Curves:NV2(n=5000)",
      "width": 403, "height": 181,
      "layer": [
        {"data": {"name": "bands"}, "transform": [{"filter": "datum.panel == 6 && datum.series == 'Treated'"}],
         "mark": {"type": "area", "orient": "horizontal", "clip": true, "fill": "#d3d3d3", "stroke": "#d3d3d3", "strokeWidth": 1},
         "encoding": {
           "y": {"field": "s", "type": "quantitative", "title": "S(t)", "scale": {"domain": [-0.04, 1.04], "nice": false, "zero": false},
                 "axis": {"values": [0, 0.2, 0.4, 0.6, 0.8, 1], "labelExpr": "datum.value == 0 ? '0.0' : (abs(datum.value - 0.4) < 0.001 ? '0.4' : (abs(datum.value - 0.8) < 0.001 ? '0.8' : ''))", "labelAngle": -90, "labelAlign": "center", "labelBaseline": "bottom", "labelPadding": 12, "labelOverlap": false, "titlePadding": 27}},
           "x": {"field": "lo", "type": "quantitative", "title": "Time", "scale": {"domain": [-0.13, 8.33], "nice": false, "zero": false},
                 "axis": {"values": [0, 2, 4, 6, 8], "labelPadding": 16, "labelFlush": false, "labelOverlap": false, "titlePadding": 22}},
           "x2": {"field": "hi"}
         }},
        {"data": {"name": "bands"}, "transform": [{"filter": "datum.panel == 6 && datum.series == 'Untreated'"}],
         "mark": {"type": "area", "orient": "horizontal", "clip": true, "fill": "#7d7d7d", "stroke": "#7d7d7d", "strokeWidth": 1},
         "encoding": {
           "y": {"field": "s", "type": "quantitative", "title": "S(t)"},
           "x": {"field": "lo", "type": "quantitative", "title": "Time"},
           "x2": {"field": "hi"}
         }},
        {"data": {"name": "truth"}, "transform": [{"filter": "datum.set == 'B'"}],
         "mark": {"type": "line", "clip": true, "strokeWidth": 1.8},
         "encoding": {
           "y": {"field": "s", "type": "quantitative", "title": "S(t)"},
           "x": {"field": "t", "type": "quantitative", "title": "Time"},
           "detail": {"field": "curve"},
           "stroke": {"field": "series", "type": "nominal", "scale": {"domain": ["Treated", "Untreated", "True"], "range": ["#d3d3d3", "#7d7d7d", "#1c1c8c"]}, "legend": {"title": null}}
         }}
      ]
    }
  ],
  "config": {
    "font": "Liberation Sans",
    "view": {"stroke": "#000000", "strokeWidth": 1.5},
    "axis": {"grid": false, "domain": false, "tickColor": "#000000", "tickSize": 8, "tickWidth": 1.2, "labelColor": "#000000", "labelFontSize": 16, "labelFont": "Liberation Sans", "titleFont": "Liberation Sans", "titleFontSize": 16, "titleFontWeight": "normal", "titleColor": "#000000"},
    "title": {"fontSize": 19, "fontWeight": "bold", "font": "Liberation Sans", "frame": "group", "anchor": "middle", "baseline": "alphabetic", "offset": 31, "color": "#000000"},
    "legend": {"orient": "top-right", "offset": 0, "padding": 12, "strokeColor": "#000000", "fillColor": "#ffffff", "symbolType": "stroke", "symbolSize": 900, "symbolStrokeWidth": 3, "clipHeight": 18, "rowPadding": 3.5, "labelOffset": 15, "labelFontSize": 16, "labelFont": "Liberation Sans", "labelColor": "#000000"}
  }
}
